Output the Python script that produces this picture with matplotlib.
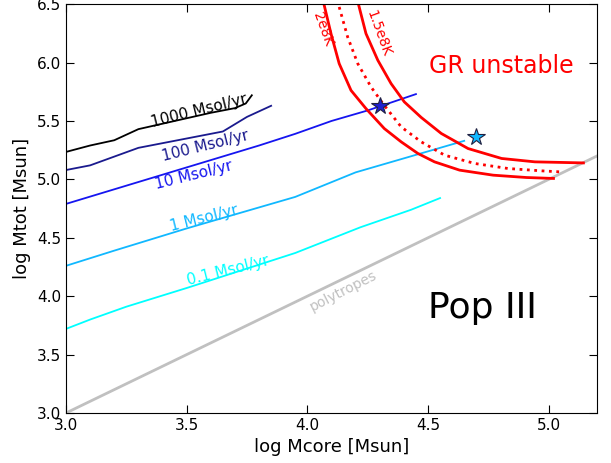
import matplotlib
matplotlib.use('Agg')
import matplotlib.pyplot as plt

# accretion tracks: log Mcore vs log Mtot
x_1000 = [3.0, 3.1, 3.2, 3.3, 3.6, 3.7, 3.745, 3.77]
y_1000 = [5.235, 5.29, 5.335, 5.43, 5.57, 5.61, 5.65, 5.72]
x_100 = [3.0, 3.1, 3.3, 3.65, 3.75, 3.85]
y_100 = [5.08, 5.12, 5.27, 5.41, 5.535, 5.63]
x_10 = [3.0, 3.4, 3.8, 3.95, 4.1, 4.25, 4.45]
y_10 = [4.79, 5.04, 5.29, 5.39, 5.5, 5.59, 5.73]
x_1 = [3.0, 3.2, 3.5, 3.8, 3.95, 4.2, 4.45, 4.65]
y_1 = [4.26, 4.39, 4.58, 4.76, 4.85, 5.06, 5.21, 5.33]
x_01 = [3.0, 3.1, 3.25, 3.5, 3.95, 4.22, 4.43, 4.55]
y_01 = [3.72, 3.80, 3.91, 4.07, 4.37, 4.59, 4.74, 4.84]

# GR instability boundaries
x_2e8 = [4.07, 4.098, 4.132, 4.181, 4.243, 4.319, 4.389, 4.458, 4.527,
         4.631, 4.77, 4.908, 5.02]
y_2e8 = [6.49, 6.248, 5.991, 5.762, 5.606, 5.435, 5.321, 5.222, 5.15,
         5.079, 5.036, 5.016, 5.008]
x_15e8 = [4.213, 4.243, 4.292, 4.347, 4.402, 4.472, 4.555, 4.666, 4.805,
          4.943, 5.144]
y_15e8 = [6.49, 6.248, 6.02, 5.82, 5.663, 5.53, 5.393, 5.264, 5.179,
          5.15, 5.141]
x_mid = [4.132, 4.167, 4.209, 4.264, 4.313, 4.389, 4.472, 4.569, 4.694,
         4.832, 4.971, 5.051]
y_mid = [6.476, 6.219, 5.991, 5.791, 5.649, 5.449, 5.321, 5.207, 5.136,
         5.093, 5.073, 5.064]

# polytropes
x_poly = [3.0, 5.2]
y_poly = [3.0, 5.2]

# endpoints
star_x = [4.3, 4.7]
star_y = [5.63, 5.36]
star_colors = ['#2020d0', '#10b8ff']

fig = plt.figure(figsize=(6.11, 4.63), dpi=100)
ax = fig.add_axes([0.108, 0.108, 0.869, 0.883])

ax.plot(x_poly, y_poly, color='#c0c0c0', lw=2)
ax.plot(x_1000, y_1000, color='black', lw=1.3)
ax.plot(x_100, y_100, color='#1a1a8e', lw=1.3)
ax.plot(x_10, y_10, color='#1515f0', lw=1.3)
ax.plot(x_1, y_1, color='#10b8ff', lw=1.3)
ax.plot(x_01, y_01, color='cyan', lw=1.3)

ax.plot(x_2e8, y_2e8, color='red', lw=2)
ax.plot(x_15e8, y_15e8, color='red', lw=2)
ax.plot(x_mid, y_mid, color='red', lw=2, linestyle=':')

for sx, sy, c in zip(star_x, star_y, star_colors):
    ax.plot(sx, sy, marker='*', markersize=13, color=c, markeredgecolor='#202040', markeredgewidth=0.8)

ax.text(3.553, 5.583, '1000 Msol/yr', color='black', fontsize=11, rotation=14, ha='center', va='center')
ax.text(3.578, 5.284, '100 Msol/yr', color='#1a1a8e', fontsize=11, rotation=14, ha='center', va='center')
ax.text(3.528, 5.036, '10 Msol/yr', color='#1515f0', fontsize=11, rotation=14, ha='center', va='center')
ax.text(3.57, 4.668, '1 Msol/yr', color='#10b8ff', fontsize=11, rotation=14, ha='center', va='center')
ax.text(3.67, 4.22, '0.1 Msol/yr', color='cyan', fontsize=11, rotation=14, ha='center', va='center')
ax.text(4.148, 4.044, 'polytropes', color='#c0c0c0', fontsize=10, rotation=27, ha='center', va='center')
ax.text(4.726, 3.898, 'Pop III', color='black', fontsize=26, ha='center', va='center')
ax.text(4.805, 5.968, 'GR unstable', color='red', fontsize=17, ha='center', va='center')
ax.text(4.064, 6.29, '2e8K', color='red', fontsize=10, rotation=-70, ha='center', va='center')
ax.text(4.293, 6.25, '1.5e8K', color='red', fontsize=10, rotation=-70, ha='center', va='center')

ax.set_xlim(3.0, 5.2)
ax.set_ylim(3.0, 6.5)
ax.set_xticks([3.0, 3.5, 4.0, 4.5, 5.0])
ax.set_yticks([3.0, 3.5, 4.0, 4.5, 5.0, 5.5, 6.0, 6.5])
ax.set_xticklabels(['3.0', '3.5', '4.0', '4.5', '5.0'])
ax.set_yticklabels(['3.0', '3.5', '4.0', '4.5', '5.0', '5.5', '6.0', '6.5'])
ax.tick_params(direction='in', top=True, right=True, length=6, labelsize=11)
ax.set_xlabel('log Mcore [Msun]', fontsize=13)
ax.set_ylabel('log Mtot [Msun]', fontsize=13)

fig.savefig('out.png', dpi=100)
